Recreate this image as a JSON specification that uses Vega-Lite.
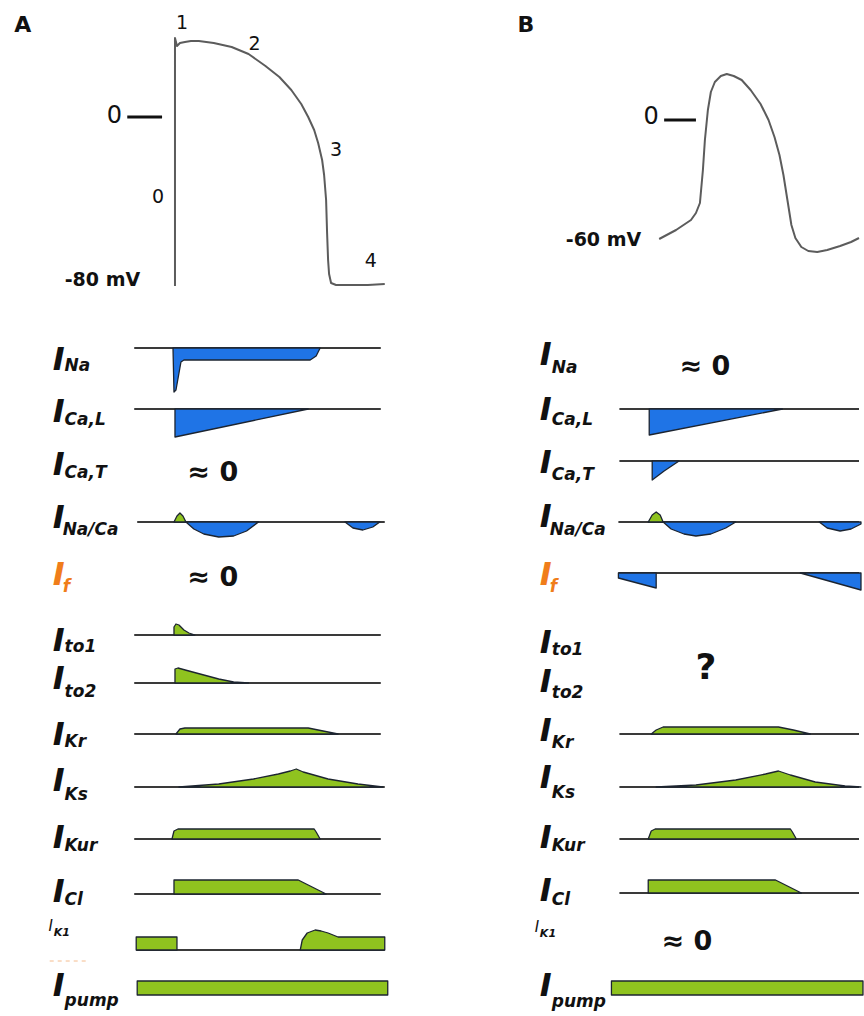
{
"$schema": "https://vega.github.io/schema/vega-lite/v6.json",
"width": 864, "height": 1016,
"autosize": {"type": "fit", "contains": "padding"},
"padding": 0,
"background": "white",
"config": {"view": {"stroke": null}, "font": "DejaVu Sans"},
"encoding": {
  "x": {"field": "t", "type": "quantitative", "scale": {"domain": [0, 864], "nice": false, "zero": false}, "axis": null},
  "y": {"field": "v", "type": "quantitative", "scale": {"domain": [0, 1016], "reverse": true, "nice": false, "zero": false}, "axis": null}
},
"datasets": {
  "baselines": [
    {"row": "A Na", "t": 135, "t2": 383, "v": 348},
    {"row": "A CaL", "t": 135, "t2": 383, "v": 409},
    {"row": "A NaCa", "t": 138, "t2": 387, "v": 522},
    {"row": "A to1", "t": 135, "t2": 383, "v": 635},
    {"row": "A to2", "t": 135, "t2": 383, "v": 683},
    {"row": "A Kr", "t": 135, "t2": 383, "v": 734},
    {"row": "A Ks", "t": 135, "t2": 387, "v": 787},
    {"row": "A Kur", "t": 135, "t2": 383, "v": 839},
    {"row": "A Cl", "t": 135, "t2": 383, "v": 894},
    {"row": "A K1", "t": 137, "t2": 387, "v": 950},
    {"row": "B CaL", "t": 623, "t2": 864, "v": 409},
    {"row": "B CaT", "t": 623, "t2": 864, "v": 461},
    {"row": "B NaCa", "t": 622, "t2": 864, "v": 522},
    {"row": "B f", "t": 622, "t2": 864, "v": 573},
    {"row": "B Kr", "t": 623, "t2": 864, "v": 734},
    {"row": "B Ks", "t": 623, "t2": 864, "v": 787},
    {"row": "B Kur", "t": 623, "t2": 864, "v": 839},
    {"row": "B Cl", "t": 623, "t2": 864, "v": 893}
  ],
  "vticks": [
    {"panel": "A", "t": 128, "t2": 163, "v": 117},
    {"panel": "B", "t": 668, "t2": 700, "v": 120}
  ],
  "dash": [
    {"t": 50, "t2": 88, "v": 961}
  ],
  "ap": [
    {"curve": "A", "i": 1, "t": 176, "v": 286},
    {"curve": "A", "i": 2, "t": 176, "v": 38},
    {"curve": "A", "i": 3, "t": 178, "v": 46},
    {"curve": "A", "i": 4, "t": 181, "v": 43},
    {"curve": "A", "i": 5, "t": 186, "v": 42},
    {"curve": "A", "i": 6, "t": 192, "v": 41},
    {"curve": "A", "i": 7, "t": 200, "v": 41},
    {"curve": "A", "i": 8, "t": 215, "v": 43},
    {"curve": "A", "i": 9, "t": 233, "v": 47},
    {"curve": "A", "i": 10, "t": 250, "v": 54},
    {"curve": "A", "i": 11, "t": 267, "v": 66},
    {"curve": "A", "i": 12, "t": 281, "v": 77},
    {"curve": "A", "i": 13, "t": 293, "v": 90},
    {"curve": "A", "i": 14, "t": 303, "v": 104},
    {"curve": "A", "i": 15, "t": 310, "v": 117},
    {"curve": "A", "i": 16, "t": 316, "v": 130},
    {"curve": "A", "i": 17, "t": 320, "v": 143},
    {"curve": "A", "i": 18, "t": 324, "v": 160},
    {"curve": "A", "i": 19, "t": 326, "v": 175},
    {"curve": "A", "i": 20, "t": 328, "v": 200},
    {"curve": "A", "i": 21, "t": 329, "v": 233},
    {"curve": "A", "i": 22, "t": 330, "v": 260},
    {"curve": "A", "i": 23, "t": 331, "v": 274},
    {"curve": "A", "i": 24, "t": 333, "v": 283},
    {"curve": "A", "i": 25, "t": 338, "v": 285},
    {"curve": "A", "i": 26, "t": 350, "v": 285},
    {"curve": "A", "i": 27, "t": 370, "v": 285},
    {"curve": "A", "i": 28, "t": 387, "v": 284},
    {"curve": "B", "i": 1, "t": 663, "v": 239},
    {"curve": "B", "i": 2, "t": 680, "v": 230},
    {"curve": "B", "i": 3, "t": 695, "v": 220},
    {"curve": "B", "i": 4, "t": 700, "v": 213},
    {"curve": "B", "i": 5, "t": 704, "v": 203},
    {"curve": "B", "i": 6, "t": 707, "v": 170},
    {"curve": "B", "i": 7, "t": 709, "v": 140},
    {"curve": "B", "i": 8, "t": 712, "v": 110},
    {"curve": "B", "i": 9, "t": 715, "v": 92},
    {"curve": "B", "i": 10, "t": 719, "v": 82},
    {"curve": "B", "i": 11, "t": 725, "v": 76},
    {"curve": "B", "i": 12, "t": 731, "v": 74},
    {"curve": "B", "i": 13, "t": 738, "v": 76},
    {"curve": "B", "i": 14, "t": 746, "v": 80},
    {"curve": "B", "i": 15, "t": 755, "v": 90},
    {"curve": "B", "i": 16, "t": 765, "v": 104},
    {"curve": "B", "i": 17, "t": 773, "v": 120},
    {"curve": "B", "i": 18, "t": 779, "v": 137},
    {"curve": "B", "i": 19, "t": 784, "v": 155},
    {"curve": "B", "i": 20, "t": 788, "v": 175},
    {"curve": "B", "i": 21, "t": 792, "v": 200},
    {"curve": "B", "i": 22, "t": 796, "v": 225},
    {"curve": "B", "i": 23, "t": 800, "v": 238},
    {"curve": "B", "i": 24, "t": 806, "v": 247},
    {"curve": "B", "i": 25, "t": 813, "v": 251},
    {"curve": "B", "i": 26, "t": 822, "v": 252},
    {"curve": "B", "i": 27, "t": 832, "v": 250},
    {"curve": "B", "i": 28, "t": 845, "v": 246},
    {"curve": "B", "i": 29, "t": 856, "v": 242},
    {"curve": "B", "i": 30, "t": 864, "v": 238}
  ],
  "shapes": [
    {"id": "A_Na", "kind": "inward", "t": 174, "v": 348, "base": 348},
    {"id": "A_Na", "kind": "inward", "t": 175, "v": 392, "base": 348},
    {"id": "A_Na", "kind": "inward", "t": 177, "v": 390, "base": 348},
    {"id": "A_Na", "kind": "inward", "t": 182, "v": 362, "base": 348},
    {"id": "A_Na", "kind": "inward", "t": 185, "v": 360, "base": 348},
    {"id": "A_Na", "kind": "inward", "t": 312, "v": 360, "base": 348},
    {"id": "A_Na", "kind": "inward", "t": 318, "v": 356, "base": 348},
    {"id": "A_Na", "kind": "inward", "t": 322, "v": 348, "base": 348},
    {"id": "A_CaL", "kind": "inward", "t": 176, "v": 409, "base": 409},
    {"id": "A_CaL", "kind": "inward", "t": 176, "v": 437, "base": 409},
    {"id": "A_CaL", "kind": "inward", "t": 310, "v": 409, "base": 409},
    {"id": "A_NaCa1", "kind": "outward", "t": 175, "v": 522, "base": 522},
    {"id": "A_NaCa1", "kind": "outward", "t": 178, "v": 516, "base": 522},
    {"id": "A_NaCa1", "kind": "outward", "t": 181, "v": 513, "base": 522},
    {"id": "A_NaCa1", "kind": "outward", "t": 184, "v": 516, "base": 522},
    {"id": "A_NaCa1", "kind": "outward", "t": 187, "v": 522, "base": 522},
    {"id": "A_NaCa2", "kind": "inward", "t": 187, "v": 522, "base": 522},
    {"id": "A_NaCa2", "kind": "inward", "t": 195, "v": 529, "base": 522},
    {"id": "A_NaCa2", "kind": "inward", "t": 205, "v": 534, "base": 522},
    {"id": "A_NaCa2", "kind": "inward", "t": 220, "v": 537, "base": 522},
    {"id": "A_NaCa2", "kind": "inward", "t": 235, "v": 536, "base": 522},
    {"id": "A_NaCa2", "kind": "inward", "t": 248, "v": 531, "base": 522},
    {"id": "A_NaCa2", "kind": "inward", "t": 260, "v": 522, "base": 522},
    {"id": "A_NaCa3", "kind": "inward", "t": 347, "v": 522, "base": 522},
    {"id": "A_NaCa3", "kind": "inward", "t": 355, "v": 528, "base": 522},
    {"id": "A_NaCa3", "kind": "inward", "t": 365, "v": 530, "base": 522},
    {"id": "A_NaCa3", "kind": "inward", "t": 375, "v": 527, "base": 522},
    {"id": "A_NaCa3", "kind": "inward", "t": 382, "v": 522, "base": 522},
    {"id": "A_to1", "kind": "outward", "t": 175, "v": 635, "base": 635},
    {"id": "A_to1", "kind": "outward", "t": 175, "v": 627, "base": 635},
    {"id": "A_to1", "kind": "outward", "t": 177, "v": 624, "base": 635},
    {"id": "A_to1", "kind": "outward", "t": 180, "v": 625, "base": 635},
    {"id": "A_to1", "kind": "outward", "t": 185, "v": 630, "base": 635},
    {"id": "A_to1", "kind": "outward", "t": 190, "v": 633, "base": 635},
    {"id": "A_to1", "kind": "outward", "t": 196, "v": 635, "base": 635},
    {"id": "A_to2", "kind": "outward", "t": 176, "v": 683, "base": 683},
    {"id": "A_to2", "kind": "outward", "t": 176, "v": 669, "base": 683},
    {"id": "A_to2", "kind": "outward", "t": 179, "v": 668, "base": 683},
    {"id": "A_to2", "kind": "outward", "t": 190, "v": 671, "base": 683},
    {"id": "A_to2", "kind": "outward", "t": 205, "v": 675, "base": 683},
    {"id": "A_to2", "kind": "outward", "t": 220, "v": 679, "base": 683},
    {"id": "A_to2", "kind": "outward", "t": 235, "v": 682, "base": 683},
    {"id": "A_to2", "kind": "outward", "t": 250, "v": 683, "base": 683},
    {"id": "A_Kr", "kind": "outward", "t": 177, "v": 734, "base": 734},
    {"id": "A_Kr", "kind": "outward", "t": 181, "v": 729, "base": 734},
    {"id": "A_Kr", "kind": "outward", "t": 186, "v": 728, "base": 734},
    {"id": "A_Kr", "kind": "outward", "t": 310, "v": 728, "base": 734},
    {"id": "A_Kr", "kind": "outward", "t": 325, "v": 731, "base": 734},
    {"id": "A_Kr", "kind": "outward", "t": 340, "v": 734, "base": 734},
    {"id": "A_Ks", "kind": "outward", "t": 180, "v": 787, "base": 787},
    {"id": "A_Ks", "kind": "outward", "t": 220, "v": 784, "base": 787},
    {"id": "A_Ks", "kind": "outward", "t": 255, "v": 779, "base": 787},
    {"id": "A_Ks", "kind": "outward", "t": 280, "v": 774, "base": 787},
    {"id": "A_Ks", "kind": "outward", "t": 292, "v": 771, "base": 787},
    {"id": "A_Ks", "kind": "outward", "t": 298, "v": 769, "base": 787},
    {"id": "A_Ks", "kind": "outward", "t": 305, "v": 772, "base": 787},
    {"id": "A_Ks", "kind": "outward", "t": 330, "v": 779, "base": 787},
    {"id": "A_Ks", "kind": "outward", "t": 360, "v": 784, "base": 787},
    {"id": "A_Ks", "kind": "outward", "t": 385, "v": 787, "base": 787},
    {"id": "A_Kur", "kind": "outward", "t": 173, "v": 839, "base": 839},
    {"id": "A_Kur", "kind": "outward", "t": 175, "v": 831, "base": 839},
    {"id": "A_Kur", "kind": "outward", "t": 179, "v": 829, "base": 839},
    {"id": "A_Kur", "kind": "outward", "t": 316, "v": 829, "base": 839},
    {"id": "A_Kur", "kind": "outward", "t": 318, "v": 832, "base": 839},
    {"id": "A_Kur", "kind": "outward", "t": 322, "v": 839, "base": 839},
    {"id": "A_Cl", "kind": "outward", "t": 175, "v": 894, "base": 894},
    {"id": "A_Cl", "kind": "outward", "t": 175, "v": 880, "base": 894},
    {"id": "A_Cl", "kind": "outward", "t": 300, "v": 880, "base": 894},
    {"id": "A_Cl", "kind": "outward", "t": 328, "v": 894, "base": 894},
    {"id": "A_K1a", "kind": "outward", "t": 137, "v": 950, "base": 950},
    {"id": "A_K1a", "kind": "outward", "t": 137, "v": 937, "base": 950},
    {"id": "A_K1a", "kind": "outward", "t": 178, "v": 937, "base": 950},
    {"id": "A_K1a", "kind": "outward", "t": 178, "v": 950, "base": 950},
    {"id": "A_K1b", "kind": "outward", "t": 302, "v": 950, "base": 950},
    {"id": "A_K1b", "kind": "outward", "t": 304, "v": 940, "base": 950},
    {"id": "A_K1b", "kind": "outward", "t": 309, "v": 933, "base": 950},
    {"id": "A_K1b", "kind": "outward", "t": 317, "v": 930, "base": 950},
    {"id": "A_K1b", "kind": "outward", "t": 323, "v": 931, "base": 950},
    {"id": "A_K1b", "kind": "outward", "t": 330, "v": 933, "base": 950},
    {"id": "A_K1b", "kind": "outward", "t": 340, "v": 937, "base": 950},
    {"id": "A_K1b", "kind": "outward", "t": 387, "v": 937, "base": 950},
    {"id": "A_K1b", "kind": "outward", "t": 387, "v": 950, "base": 950},
    {"id": "A_pump", "kind": "outward", "t": 138, "v": 995, "base": 995},
    {"id": "A_pump", "kind": "outward", "t": 138, "v": 981, "base": 995},
    {"id": "A_pump", "kind": "outward", "t": 390, "v": 981, "base": 995},
    {"id": "A_pump", "kind": "outward", "t": 390, "v": 995, "base": 995},
    {"id": "B_CaL", "kind": "inward", "t": 653, "v": 409, "base": 409},
    {"id": "B_CaL", "kind": "inward", "t": 653, "v": 435, "base": 409},
    {"id": "B_CaL", "kind": "inward", "t": 787, "v": 409, "base": 409},
    {"id": "B_CaT", "kind": "inward", "t": 656, "v": 461, "base": 461},
    {"id": "B_CaT", "kind": "inward", "t": 656, "v": 480, "base": 461},
    {"id": "B_CaT", "kind": "inward", "t": 668, "v": 471, "base": 461},
    {"id": "B_CaT", "kind": "inward", "t": 683, "v": 461, "base": 461},
    {"id": "B_NaCa1", "kind": "outward", "t": 652, "v": 522, "base": 522},
    {"id": "B_NaCa1", "kind": "outward", "t": 656, "v": 515, "base": 522},
    {"id": "B_NaCa1", "kind": "outward", "t": 660, "v": 512, "base": 522},
    {"id": "B_NaCa1", "kind": "outward", "t": 664, "v": 515, "base": 522},
    {"id": "B_NaCa1", "kind": "outward", "t": 667, "v": 522, "base": 522},
    {"id": "B_NaCa2", "kind": "inward", "t": 667, "v": 522, "base": 522},
    {"id": "B_NaCa2", "kind": "inward", "t": 675, "v": 529, "base": 522},
    {"id": "B_NaCa2", "kind": "inward", "t": 688, "v": 534, "base": 522},
    {"id": "B_NaCa2", "kind": "inward", "t": 700, "v": 536, "base": 522},
    {"id": "B_NaCa2", "kind": "inward", "t": 715, "v": 534, "base": 522},
    {"id": "B_NaCa2", "kind": "inward", "t": 730, "v": 528, "base": 522},
    {"id": "B_NaCa2", "kind": "inward", "t": 740, "v": 522, "base": 522},
    {"id": "B_NaCa3", "kind": "inward", "t": 824, "v": 522, "base": 522},
    {"id": "B_NaCa3", "kind": "inward", "t": 832, "v": 528, "base": 522},
    {"id": "B_NaCa3", "kind": "inward", "t": 845, "v": 531, "base": 522},
    {"id": "B_NaCa3", "kind": "inward", "t": 856, "v": 529, "base": 522},
    {"id": "B_NaCa3", "kind": "inward", "t": 866, "v": 524, "base": 522},
    {"id": "B_f1", "kind": "inward", "t": 622, "v": 578, "base": 573},
    {"id": "B_f1", "kind": "inward", "t": 660, "v": 588, "base": 573},
    {"id": "B_f2", "kind": "inward", "t": 805, "v": 573, "base": 573},
    {"id": "B_f2", "kind": "inward", "t": 866, "v": 590, "base": 573},
    {"id": "B_Kr", "kind": "outward", "t": 655, "v": 734, "base": 734},
    {"id": "B_Kr", "kind": "outward", "t": 660, "v": 730, "base": 734},
    {"id": "B_Kr", "kind": "outward", "t": 667, "v": 727, "base": 734},
    {"id": "B_Kr", "kind": "outward", "t": 783, "v": 727, "base": 734},
    {"id": "B_Kr", "kind": "outward", "t": 798, "v": 730, "base": 734},
    {"id": "B_Kr", "kind": "outward", "t": 815, "v": 734, "base": 734},
    {"id": "B_Ks", "kind": "outward", "t": 660, "v": 787, "base": 787},
    {"id": "B_Ks", "kind": "outward", "t": 700, "v": 785, "base": 787},
    {"id": "B_Ks", "kind": "outward", "t": 740, "v": 780, "base": 787},
    {"id": "B_Ks", "kind": "outward", "t": 770, "v": 774, "base": 787},
    {"id": "B_Ks", "kind": "outward", "t": 783, "v": 771, "base": 787},
    {"id": "B_Ks", "kind": "outward", "t": 795, "v": 775, "base": 787},
    {"id": "B_Ks", "kind": "outward", "t": 820, "v": 782, "base": 787},
    {"id": "B_Ks", "kind": "outward", "t": 850, "v": 786, "base": 787},
    {"id": "B_Ks", "kind": "outward", "t": 866, "v": 787, "base": 787},
    {"id": "B_Kur", "kind": "outward", "t": 652, "v": 839, "base": 839},
    {"id": "B_Kur", "kind": "outward", "t": 655, "v": 831, "base": 839},
    {"id": "B_Kur", "kind": "outward", "t": 659, "v": 829, "base": 839},
    {"id": "B_Kur", "kind": "outward", "t": 795, "v": 829, "base": 839},
    {"id": "B_Kur", "kind": "outward", "t": 797, "v": 832, "base": 839},
    {"id": "B_Kur", "kind": "outward", "t": 801, "v": 839, "base": 839},
    {"id": "B_Cl", "kind": "outward", "t": 652, "v": 893, "base": 893},
    {"id": "B_Cl", "kind": "outward", "t": 652, "v": 880, "base": 893},
    {"id": "B_Cl", "kind": "outward", "t": 780, "v": 880, "base": 893},
    {"id": "B_Cl", "kind": "outward", "t": 806, "v": 893, "base": 893},
    {"id": "B_pump", "kind": "outward", "t": 615, "v": 995, "base": 995},
    {"id": "B_pump", "kind": "outward", "t": 615, "v": 981, "base": 995},
    {"id": "B_pump", "kind": "outward", "t": 868, "v": 981, "base": 995},
    {"id": "B_pump", "kind": "outward", "t": 868, "v": 995, "base": 995}
  ],
  "bigI": [
    {"panel": "A", "ion": "Na", "text": "I", "t": 59, "v": 360},
    {"panel": "A", "ion": "Ca,L", "text": "I", "t": 59, "v": 412},
    {"panel": "A", "ion": "Ca,T", "text": "I", "t": 59, "v": 465},
    {"panel": "A", "ion": "Na/Ca", "text": "I", "t": 59, "v": 518},
    {"panel": "A", "ion": "f", "text": "I", "t": 59, "v": 575},
    {"panel": "A", "ion": "to1", "text": "I", "t": 59, "v": 641},
    {"panel": "A", "ion": "to2", "text": "I", "t": 59, "v": 679},
    {"panel": "A", "ion": "Kr", "text": "I", "t": 59, "v": 735},
    {"panel": "A", "ion": "Ks", "text": "I", "t": 59, "v": 781},
    {"panel": "A", "ion": "Kur", "text": "I", "t": 59, "v": 838},
    {"panel": "A", "ion": "Cl", "text": "I", "t": 59, "v": 892},
    {"panel": "A", "ion": "pump", "text": "I", "t": 59, "v": 986},
    {"panel": "B", "ion": "Na", "text": "I", "t": 549, "v": 355},
    {"panel": "B", "ion": "Ca,L", "text": "I", "t": 549, "v": 410},
    {"panel": "B", "ion": "Ca,T", "text": "I", "t": 549, "v": 463},
    {"panel": "B", "ion": "Na/Ca", "text": "I", "t": 549, "v": 517},
    {"panel": "B", "ion": "f", "text": "I", "t": 549, "v": 575},
    {"panel": "B", "ion": "to1", "text": "I", "t": 549, "v": 643},
    {"panel": "B", "ion": "to2", "text": "I", "t": 549, "v": 682},
    {"panel": "B", "ion": "Kr", "text": "I", "t": 549, "v": 731},
    {"panel": "B", "ion": "Ks", "text": "I", "t": 549, "v": 778},
    {"panel": "B", "ion": "Kur", "text": "I", "t": 549, "v": 838},
    {"panel": "B", "ion": "Cl", "text": "I", "t": 549, "v": 891},
    {"panel": "B", "ion": "pump", "text": "I", "t": 549, "v": 986}
  ],
  "subs": [
    {"panel": "A", "ion": "Na", "text": "Na", "t": 65, "v": 366},
    {"panel": "A", "ion": "Ca,L", "text": "Ca,L", "t": 65, "v": 420},
    {"panel": "A", "ion": "Ca,T", "text": "Ca,T", "t": 65, "v": 473},
    {"panel": "A", "ion": "Na/Ca", "text": "Na/Ca", "t": 63, "v": 530},
    {"panel": "A", "ion": "f", "text": "f", "t": 63, "v": 587},
    {"panel": "A", "ion": "to1", "text": "to1", "t": 65, "v": 647},
    {"panel": "A", "ion": "to2", "text": "to2", "t": 65, "v": 692},
    {"panel": "A", "ion": "Kr", "text": "Kr", "t": 65, "v": 742},
    {"panel": "A", "ion": "Ks", "text": "Ks", "t": 65, "v": 795},
    {"panel": "A", "ion": "Kur", "text": "Kur", "t": 65, "v": 846},
    {"panel": "A", "ion": "Cl", "text": "Cl", "t": 65, "v": 900},
    {"panel": "A", "ion": "pump", "text": "pump", "t": 65, "v": 1001},
    {"panel": "B", "ion": "Na", "text": "Na", "t": 555, "v": 368},
    {"panel": "B", "ion": "Ca,L", "text": "Ca,L", "t": 555, "v": 420},
    {"panel": "B", "ion": "Ca,T", "text": "Ca,T", "t": 555, "v": 475},
    {"panel": "B", "ion": "Na/Ca", "text": "Na/Ca", "t": 553, "v": 530},
    {"panel": "B", "ion": "f", "text": "f", "t": 553, "v": 587},
    {"panel": "B", "ion": "to1", "text": "to1", "t": 555, "v": 650},
    {"panel": "B", "ion": "to2", "text": "to2", "t": 555, "v": 693},
    {"panel": "B", "ion": "Kr", "text": "Kr", "t": 555, "v": 743},
    {"panel": "B", "ion": "Ks", "text": "Ks", "t": 555, "v": 793},
    {"panel": "B", "ion": "Kur", "text": "Kur", "t": 555, "v": 846},
    {"panel": "B", "ion": "Cl", "text": "Cl", "t": 555, "v": 900},
    {"panel": "B", "ion": "pump", "text": "pump", "t": 555, "v": 1002}
  ],
  "smallI": [
    {"panel": "A", "text": "I", "t": 51, "v": 926},
    {"panel": "B", "text": "I", "t": 540, "v": 927}
  ],
  "smallSub": [
    {"panel": "A", "text": "K1", "t": 54, "v": 933},
    {"panel": "B", "text": "K1", "t": 543, "v": 934}
  ],
  "panels": [
    {"text": "A", "t": 23, "v": 25},
    {"text": "B", "t": 529, "v": 25}
  ],
  "phases": [
    {"text": "1", "t": 183, "v": 23},
    {"text": "2", "t": 256, "v": 44},
    {"text": "3", "t": 338, "v": 150},
    {"text": "4", "t": 373, "v": 261},
    {"text": "0", "t": 159, "v": 197}
  ],
  "zeros": [
    {"panel": "A", "text": "0", "t": 115, "v": 116},
    {"panel": "B", "text": "0", "t": 655, "v": 117}
  ],
  "rest": [
    {"panel": "A", "text": "-80 mV", "t": 103, "v": 280},
    {"panel": "B", "text": "-60 mV", "t": 607, "v": 240}
  ],
  "approx": [
    {"panel": "A", "ion": "Ca,T", "text": "≈ 0", "t": 214, "v": 473},
    {"panel": "A", "ion": "f", "text": "≈ 0", "t": 214, "v": 578},
    {"panel": "B", "ion": "Na", "text": "≈ 0", "t": 709, "v": 367},
    {"panel": "B", "ion": "K1", "text": "≈ 0", "t": 691, "v": 942}
  ],
  "unknown": [
    {"panel": "B", "ion": "to1/to2", "text": "?", "t": 710, "v": 668}
  ]
},
"layer": [
  {"data": {"name": "baselines"}, "mark": {"type": "rule", "color": "#3a3a3a", "strokeWidth": 2}, "encoding": {"x2": {"field": "t2"}}},
  {"data": {"name": "vticks"}, "mark": {"type": "rule", "color": "#111111", "strokeWidth": 3}, "encoding": {"x2": {"field": "t2"}}},
  {"data": {"name": "dash"}, "mark": {"type": "rule", "color": "#f0a060", "strokeWidth": 1, "strokeDash": [4, 4], "opacity": 0.7}, "encoding": {"x2": {"field": "t2"}}},
  {"data": {"name": "shapes"}, "mark": {"type": "area", "orient": "vertical", "stroke": "#1c2430", "strokeWidth": 1.3, "strokeJoin": "round", "interpolate": "linear"},
   "encoding": {"y2": {"field": "base"}, "color": {"field": "kind", "type": "nominal", "scale": {"domain": ["inward", "outward"], "range": ["#1f74e6", "#8fc31f"]}, "legend": null}, "detail": {"field": "id"}}},
  {"data": {"name": "ap"}, "mark": {"type": "line", "color": "#5c5c5c", "strokeWidth": 2, "strokeJoin": "round"},
   "encoding": {"detail": {"field": "curve"}, "order": {"field": "i", "type": "quantitative"}}},
  {"data": {"name": "bigI"}, "mark": {"type": "text", "fontSize": 32, "fontWeight": "bold", "fontStyle": "italic", "align": "center", "baseline": "middle", "font": "DejaVu Sans"},
   "encoding": {"text": {"field": "text"}, "color": {"condition": {"test": "datum.ion === 'f'", "value": "#f07d1a"}, "value": "#111111"}}},
  {"data": {"name": "subs"}, "mark": {"type": "text", "fontSize": 17, "fontWeight": "bold", "fontStyle": "italic", "align": "left", "baseline": "middle", "font": "DejaVu Sans"},
   "encoding": {"text": {"field": "text"}, "color": {"condition": {"test": "datum.ion === 'f'", "value": "#f07d1a"}, "value": "#111111"}}},
  {"data": {"name": "smallI"}, "mark": {"type": "text", "fontSize": 15, "fontStyle": "italic", "align": "center", "baseline": "middle", "font": "DejaVu Sans", "color": "#111111"}, "encoding": {"text": {"field": "text"}}},
  {"data": {"name": "smallSub"}, "mark": {"type": "text", "fontSize": 11, "fontStyle": "italic", "fontWeight": "bold", "align": "left", "baseline": "middle", "font": "DejaVu Sans", "color": "#111111"}, "encoding": {"text": {"field": "text"}}},
  {"data": {"name": "panels"}, "mark": {"type": "text", "fontSize": 22, "fontWeight": "bold", "align": "center", "baseline": "middle", "font": "DejaVu Sans", "color": "#111111"}, "encoding": {"text": {"field": "text"}}},
  {"data": {"name": "phases"}, "mark": {"type": "text", "fontSize": 19, "align": "center", "baseline": "middle", "font": "DejaVu Sans", "color": "#111111"}, "encoding": {"text": {"field": "text"}}},
  {"data": {"name": "zeros"}, "mark": {"type": "text", "fontSize": 24, "align": "center", "baseline": "middle", "font": "DejaVu Sans", "color": "#111111"}, "encoding": {"text": {"field": "text"}}},
  {"data": {"name": "rest"}, "mark": {"type": "text", "fontSize": 19, "fontWeight": "bold", "align": "center", "baseline": "middle", "font": "DejaVu Sans", "color": "#111111"}, "encoding": {"text": {"field": "text"}}},
  {"data": {"name": "approx"}, "mark": {"type": "text", "fontSize": 27, "fontWeight": "bold", "align": "center", "baseline": "middle", "font": "DejaVu Sans", "color": "#111111"}, "encoding": {"text": {"field": "text"}}},
  {"data": {"name": "unknown"}, "mark": {"type": "text", "fontSize": 36, "fontWeight": "bold", "align": "center", "baseline": "middle", "font": "DejaVu Sans", "color": "#111111"}, "encoding": {"text": {"field": "text"}}}
]
}
